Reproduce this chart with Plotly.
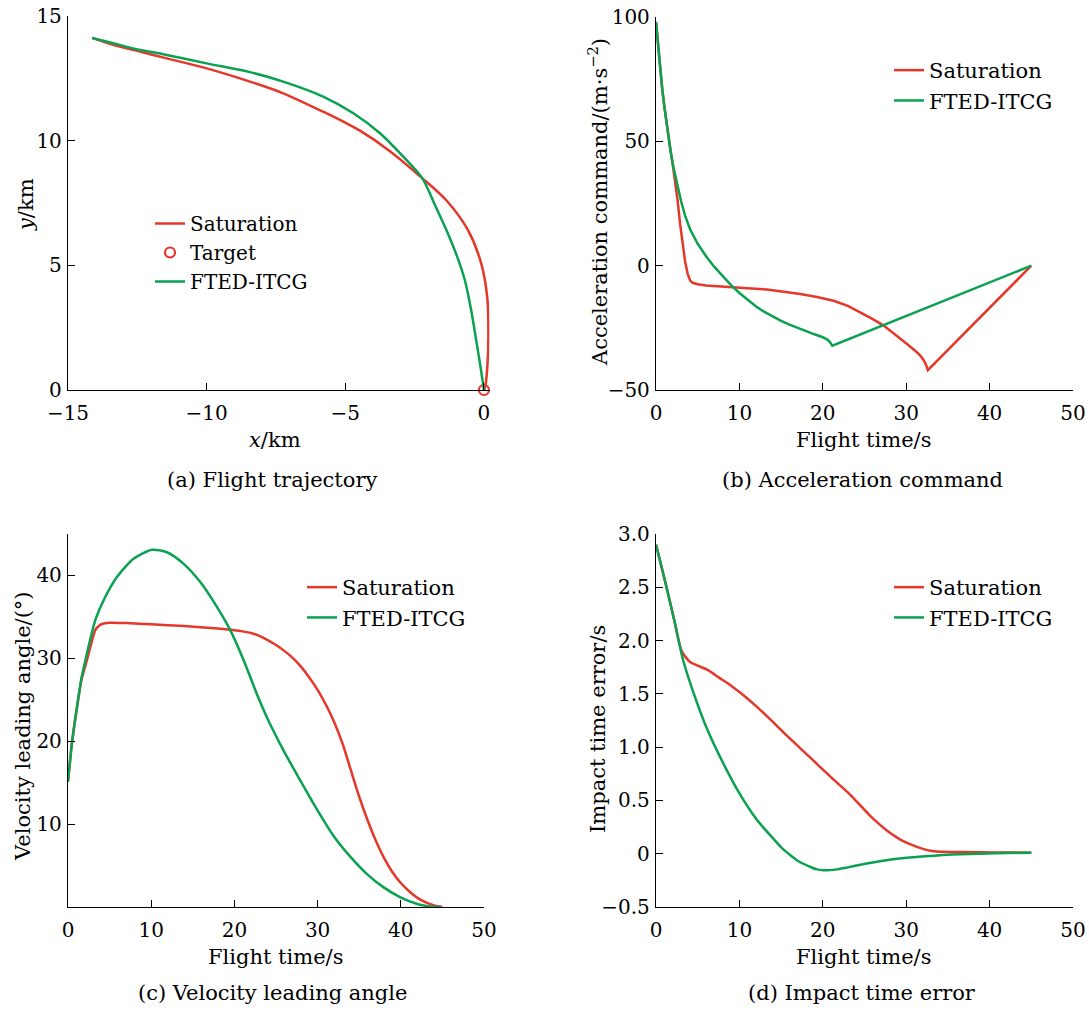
import plotly.graph_objects as go

# ---------------- data ----------------
# (a) flight trajectory, km
traj_sat_x = [-14.13, -13.4, -12.65, -11.44, -10.0, -8.44, -7.24, -5.80, -5.0, -4.47, -3.39,
              -2.22, -1.35, -0.58, -0.10, 0.12, 0.16, 0.12, 0.04, 0.0]
traj_sat_y = [14.12, 13.85, 13.64, 13.30, 12.90, 12.37, 11.90, 11.16, 10.72, 10.40, 9.58,
              8.49, 7.60, 6.42, 5.08, 3.70, 2.20, 0.90, 0.10, 0.0]
traj_fted_x = [-14.13, -13.4, -12.65, -11.44, -10.0, -8.44, -7.24, -5.80, -4.71, -3.75, -2.91,
               -2.22, -1.75, -1.30, -0.95, -0.69, -0.46, -0.28, -0.12, 0.0]
traj_fted_y = [14.12, 13.92, 13.70, 13.44, 13.10, 12.75, 12.37, 11.77, 11.10, 10.30, 9.36,
               8.49, 7.38, 6.28, 5.30, 4.41, 3.20, 2.00, 0.90, 0.0]
target_x = [0.0]
target_y = [0.0]

# (b) acceleration command, m/s^2
acc_sat_t = [0, 0.25, 0.5, 0.75, 1.0, 1.25, 1.5, 1.75, 2.0, 2.3, 2.6, 2.9, 3.2, 3.5, 3.8, 4.1,
             4.4, 5.0, 6.0, 7.5, 9.3, 11.0, 13.3, 15.3, 17.3, 19.3, 21.3, 23.0, 24.5, 26.0,
             27.3, 28.7, 30.1, 31.0, 31.7, 32.1, 32.4, 32.6, 45.0]
acc_sat_a = [98, 88, 79, 71, 64, 57.5, 51.5, 46, 41, 34, 26, 16.5, 8, 1.5, -3.3, -6.0,
             -6.9, -7.5, -8.0, -8.4, -8.7, -9.1, -9.6, -10.4, -11.4, -12.6, -14.1, -16.2,
             -18.8, -21.5, -24.1, -27.7, -31.5, -34.0, -36.2, -38.0, -40.0, -42.0, 0]
acc_fted_t = [0, 0.25, 0.5, 0.75, 1.0, 1.25, 1.5, 1.75, 2.0, 2.5, 3.0, 3.5, 4.1, 5, 6, 7, 8, 9,
              10, 11, 12, 13, 14, 15, 16, 17, 18, 19, 20, 20.5, 20.8, 21.0, 21.15, 45.0]
acc_fted_a = [98, 88, 79, 71, 64, 57.5, 51.5, 46, 41, 33, 26, 20, 14.5, 8.8, 3.8, -0.5, -4.3,
              -7.8, -11.0, -13.9, -16.4, -18.6, -20.5, -22.2, -23.7, -25.1, -26.4, -27.6,
              -28.8, -29.6, -30.5, -31.5, -32.2, 0]

# (c) velocity leading angle, deg
ang_sat_t = [0, 0.5, 1.08, 1.6, 2.28, 2.8, 3.28, 3.8, 4.28, 5.08, 7, 10, 14, 18, 20, 21, 22,
             23, 24, 25, 26, 27, 28, 29, 30, 31, 32, 33, 34, 35, 36, 37, 38, 39, 40, 41, 42,
             43, 44, 45]
ang_sat_v = [15.2, 20, 24.1, 27.3, 29.8, 31.8, 33.4, 34.0, 34.2, 34.3, 34.25, 34.1, 33.9, 33.6,
             33.4, 33.25, 33.05, 32.7, 32.2, 31.6, 30.9, 30.05, 29.0, 27.7, 26.2, 24.4, 22.3,
             19.7, 16.5, 13.3, 10.5, 8.0, 5.9, 4.2, 2.9, 1.9, 1.1, 0.55, 0.2, 0.0]
ang_fted_t = [0, 0.5, 1.08, 1.6, 2.28, 2.8, 3.28, 4.28, 5.88, 7.88, 10.1, 11.9, 13.9, 15.9, 17.9,
              19.5, 21.1, 22.7, 23.9, 25.9, 27.9, 29.9, 31.9, 33.9, 35.9, 37.9, 39.9, 41.9,
              43.3, 44.7]
ang_fted_v = [15.1, 20, 24.1, 27.5, 30.6, 32.8, 34.6, 37.0, 39.8, 42.0, 43.1, 42.8, 41.4, 39.2,
              36.2, 33.4, 29.8, 25.7, 22.9, 18.9, 15.3, 11.8, 8.6, 6.1, 4.0, 2.4, 1.2, 0.4,
              0.1, 0.0]

# (d) impact time error, s
err_sat_t = [0, 1.14, 2.19, 3.03, 3.6, 4.08, 5.0, 6.18, 7.6, 9.13, 10.6, 12.07, 13.7, 15.4, 17.5,
             19.6, 21.3, 23.0, 24.3, 25.5, 26.8, 28.0, 29.3, 30.6, 31.9, 33.1, 34.5, 36.5,
             40.7, 45]
err_sat_e = [2.90, 2.54, 2.19, 1.91, 1.84, 1.80, 1.765, 1.725, 1.65, 1.57, 1.48, 1.38, 1.26,
             1.13, 0.975, 0.82, 0.695, 0.575, 0.47, 0.37, 0.275, 0.198, 0.133, 0.085, 0.048,
             0.026, 0.018, 0.016, 0.012, 0.01]
err_fted_t = [0, 1.14, 2.19, 3.24, 4.5, 6.18, 7.86, 9.97, 12.07, 14.2, 15.2, 16.3, 17.3, 18.4,
              19.2, 20.06, 21.7, 23.0, 24.5, 26.0, 28.0, 30.1, 32.3, 34.4, 36.5, 40.7, 45]
err_fted_e = [2.90, 2.54, 2.19, 1.82, 1.51, 1.16, 0.88, 0.57, 0.32, 0.13, 0.045, -0.025, -0.08,
              -0.12, -0.145, -0.156, -0.147, -0.128, -0.104, -0.082, -0.056, -0.038, -0.024,
              -0.013, -0.005, 0.005, 0.01]

err_tickvals = [-0.5, 0, 0.5, 1.0, 1.5, 2.0, 2.5, 3.0]
err_ticktext = ["\u22120.5", "0", "0.5", "1.0", "1.5", "2.0", "2.5", "3.0"]

captions = ["(a) Flight trajectory", "(b) Acceleration command",
            "(c) Velocity leading angle", "(d) Impact time error"]
axis_titles = [
    ("<i>x</i>/km", 275, 440, 0),
    ("<i>y</i>/km", 26, 205, -90),
    ("Flight time/s", 863, 440, 0),
    ("Acceleration command/(m\u00b7s<sup>\u22122</sup>)", 598, 202, -90),
    ("Flight time/s", 275, 957, 0),
    ("Velocity leading angle/(\u00b0)", 23, 726, -90),
    ("Flight time/s", 863, 957, 0),
    ("Impact time error/s", 598, 729, -90),
]

# ---------------- style ----------------
RED = "#e5372a"
GREEN = "#0aa150"
FONT = "DejaVu Serif"
LW = 2.5
W, H = 1089, 1011


def px_x(p):
    return p / W


def px_y(p):
    return 1 - p / H


fig = go.Figure()

# (a)
fig.add_trace(go.Scatter(x=traj_sat_x, y=traj_sat_y, mode="lines", name="Saturation",
                         line=dict(color=RED, width=LW, shape="spline", smoothing=0.8),
                         xaxis="x", yaxis="y", legend="legend"))
fig.add_trace(go.Scatter(x=target_x, y=target_y, mode="markers", name="Target",
                         marker=dict(symbol="circle-open", size=10, color=RED,
                                     line=dict(width=2.2, color=RED)),
                         cliponaxis=False, xaxis="x", yaxis="y", legend="legend"))
fig.add_trace(go.Scatter(x=traj_fted_x, y=traj_fted_y, mode="lines", name="FTED-ITCG",
                         line=dict(color=GREEN, width=LW, shape="spline", smoothing=0.8),
                         xaxis="x", yaxis="y", legend="legend"))

# (b)
fig.add_trace(go.Scatter(x=acc_sat_t, y=acc_sat_a, mode="lines", name="Saturation",
                         line=dict(color=RED, width=LW), xaxis="x2", yaxis="y2",
                         legend="legend2"))
fig.add_trace(go.Scatter(x=acc_fted_t, y=acc_fted_a, mode="lines", name="FTED-ITCG",
                         line=dict(color=GREEN, width=LW), xaxis="x2", yaxis="y2",
                         legend="legend2"))

# (c)
fig.add_trace(go.Scatter(x=ang_sat_t, y=ang_sat_v, mode="lines", name="Saturation",
                         line=dict(color=RED, width=LW, shape="spline", smoothing=0.7),
                         xaxis="x3", yaxis="y3", legend="legend3"))
fig.add_trace(go.Scatter(x=ang_fted_t, y=ang_fted_v, mode="lines", name="FTED-ITCG",
                         line=dict(color=GREEN, width=LW, shape="spline", smoothing=0.7),
                         xaxis="x3", yaxis="y3", legend="legend3"))

# (d)
fig.add_trace(go.Scatter(x=err_sat_t, y=err_sat_e, mode="lines", name="Saturation",
                         line=dict(color=RED, width=LW, shape="spline", smoothing=0.7),
                         xaxis="x4", yaxis="y4", legend="legend4"))
fig.add_trace(go.Scatter(x=err_fted_t, y=err_fted_e, mode="lines", name="FTED-ITCG",
                         line=dict(color=GREEN, width=LW, shape="spline", smoothing=0.7),
                         xaxis="x4", yaxis="y4", legend="legend4"))

tick_font = dict(family=FONT, size=20, color="black")


def axis(domain, rng, anchor, standoff, **kw):
    d = dict(domain=domain, range=rng, anchor=anchor, automargin=False, showgrid=False,
             zeroline=False, showline=True, linecolor="black", linewidth=1.3,
             ticks="inside", ticklen=7, tickwidth=1.2, tickcolor="black",
             tickfont=tick_font, ticklabelstandoff=standoff)
    d.update(kw)
    return d


dom_left = [px_x(68), px_x(489.5)]
dom_left_c = [px_x(68), px_x(484)]
dom_right = [px_x(656), px_x(1073)]
dom_top_a = [px_y(390), px_y(16)]
dom_top_b = [px_y(390), px_y(17)]
dom_bot = [px_y(907), px_y(534)]

fig.update_layout(
    width=W, height=H, margin=dict(l=0, r=0, t=0, b=0),
    paper_bgcolor="white", plot_bgcolor="white",
    font=dict(family=FONT, size=21, color="black"),
    showlegend=True,
    xaxis=axis(dom_left, [-15, 0.2], "y", 5, tickvals=[-15, -10, -5, 0]),
    yaxis=axis(dom_top_a, [0, 15], "x", 1, tickvals=[0, 5, 10, 15]),
    xaxis2=axis(dom_right, [0, 50], "y2", 5, tickvals=[0, 10, 20, 30, 40, 50]),
    yaxis2=axis(dom_top_b, [-50, 100], "x2", 1, tickvals=[-50, 0, 50, 100]),
    xaxis3=axis(dom_left_c, [0, 50], "y3", 5, tickvals=[0, 10, 20, 30, 40, 50]),
    yaxis3=axis(dom_bot, [0, 45], "x3", 1, tickvals=[10, 20, 30, 40]),
    xaxis4=axis(dom_right, [0, 50], "y4", 5, tickvals=[0, 10, 20, 30, 40, 50]),
    yaxis4=axis(dom_bot, [-0.5, 3.0], "x4", 1, tickvals=err_tickvals, ticktext=err_ticktext),
)

legend_common = dict(bgcolor="rgba(0,0,0,0)", borderwidth=0, xanchor="left", yanchor="top",
                     font=dict(family=FONT, size=21, color="black"), itemwidth=30)
fig.update_layout(
    legend=dict(legend_common, x=px_x(150), y=px_y(204), font=dict(family=FONT, size=20)),
    legend2=dict(legend_common, x=px_x(889), y=px_y(50)),
    legend3=dict(legend_common, x=px_x(302), y=px_y(567)),
    legend4=dict(legend_common, x=px_x(889), y=px_y(567)),
)

for text, cx, cy, ang in axis_titles:
    fig.add_annotation(text=text, x=px_x(cx), y=px_y(cy), xref="paper", yref="paper",
                       showarrow=False, xanchor="center", yanchor="middle", textangle=ang,
                       font=dict(family=FONT, size=21, color="black"))

cap_pos = [(272, 480), (862, 480), (272, 993), (862, 993)]
for text, (cx, cy) in zip(captions, cap_pos):
    fig.add_annotation(text=text, x=px_x(cx), y=px_y(cy), xref="paper", yref="paper",
                       showarrow=False, xanchor="center", yanchor="middle",
                       font=dict(family=FONT, size=21, color="black"))

fig.write_html("out.html")
